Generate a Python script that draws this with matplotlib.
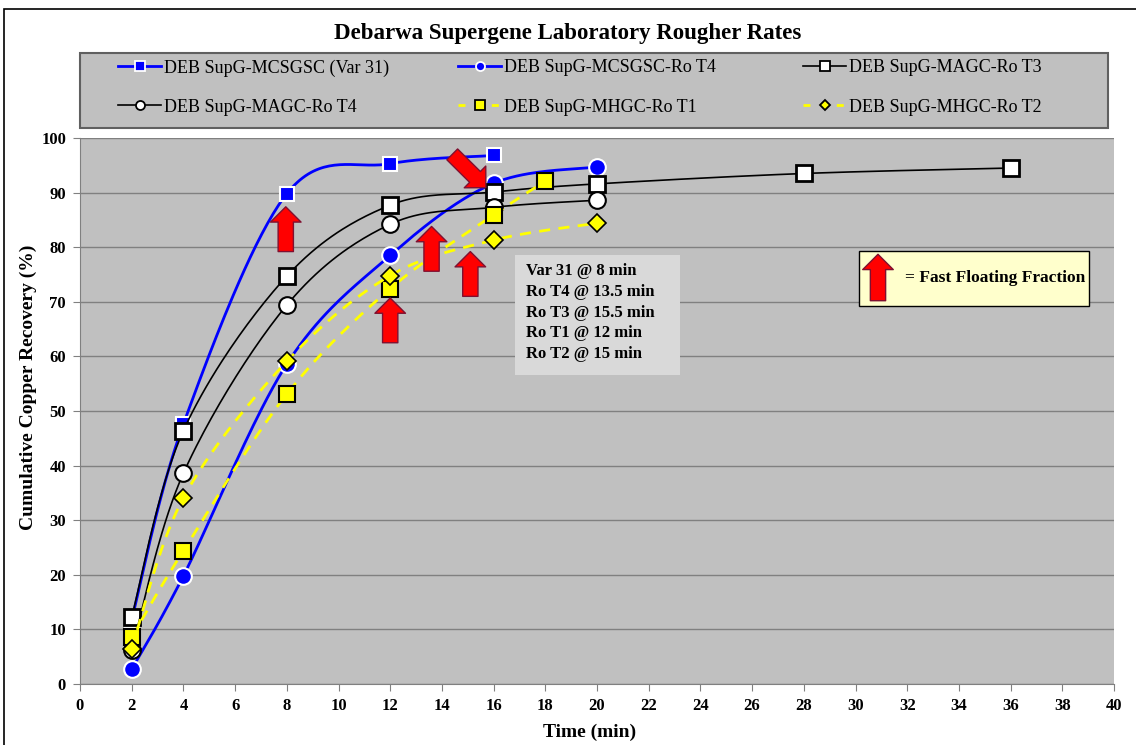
import numpy as np
import matplotlib
matplotlib.use("Agg")
import matplotlib.pyplot as plt
from matplotlib.patches import FancyArrowPatch, Rectangle
from matplotlib.lines import Line2D

plt.rcParams['font.family'] = ['Liberation Serif', 'DejaVu Serif']

# ---------------- data ----------------
var31_t = [2, 4, 8, 12, 16]
var31_r = [11.8, 47.6, 89.8, 95.3, 96.8]

mcs_t4_t = [2, 4, 8, 12, 16, 20]
mcs_t4_r = [2.7, 19.8, 58.6, 78.5, 91.7, 94.7]

magc_t3_t = [2, 4, 8, 12, 16, 20, 28, 36]
magc_t3_r = [12.3, 46.4, 74.7, 87.7, 90.1, 91.6, 93.5, 94.5]

magc_t4_t = [2, 4, 8, 12, 16, 20]
magc_t4_r = [6.2, 38.6, 69.4, 84.2, 87.3, 88.6]

mhgc_t1_t = [2, 4, 8, 12, 16, 18]
mhgc_t1_r = [8.6, 24.4, 53.1, 72.4, 85.9, 92.1]

mhgc_t2_t = [2, 4, 8, 12, 16, 20]
mhgc_t2_r = [6.5, 34.1, 59.1, 74.8, 81.3, 84.4]

labels = ["DEB SupG-MCSGSC (Var 31)", "DEB SupG-MCSGSC-Ro T4", "DEB SupG-MAGC-Ro T3",
          "DEB SupG-MAGC-Ro T4", "DEB SupG-MHGC-Ro T1", "DEB SupG-MHGC-Ro T2"]

note_lines = ["Var 31 @ 8 min", "Ro T4 @ 13.5 min", "Ro T3 @ 15.5 min",
              "Ro T1 @ 12 min", "Ro T2 @ 15 min"]


def smooth(x, y, n=40):
    """Excel-style smoothed line (cubic Bezier, 1/6 tangents)."""
    P = np.column_stack([x, y]).astype(float)
    m = len(P)
    out = []
    for i in range(m - 1):
        p0 = P[i - 1] if i > 0 else P[i]
        p1 = P[i]
        p2 = P[i + 1]
        p3 = P[i + 2] if i + 2 < m else P[i + 1]
        c1 = p1 + (p2 - p0) / 6.0
        c2 = p2 - (p3 - p1) / 6.0
        t = np.linspace(0, 1, n)[:, None]
        seg = ((1 - t) ** 3) * p1 + 3 * ((1 - t) ** 2) * t * c1 + 3 * (1 - t) * t ** 2 * c2 + t ** 3 * p2
        out.append(seg if i == 0 else seg[1:])
    s = np.vstack(out)
    return s[:, 0], s[:, 1]


W, H = 1136, 745
fig = plt.figure(figsize=(W / 100, H / 100), dpi=100)
fig.patch.set_facecolor('white')
ax = fig.add_axes([80 / W, (H - 684) / H, (1114 - 80) / W, (684 - 138) / H])
ax.set_facecolor('#C0C0C0')

series = [
    dict(t=var31_t, r=var31_r, color='#0000FF', lw=2.0, ls='-', marker='s', ms=10, mfc='#0000FF', mec='white', mew=1.5),
    dict(t=mcs_t4_t, r=mcs_t4_r, color='#0000FF', lw=2.0, ls='-', marker='o', ms=12, mfc='#0000FF', mec='white', mew=1.5),
    dict(t=magc_t3_t, r=magc_t3_r, color='black', lw=1.2, ls='-', marker='s', ms=12, mfc='white', mec='black', mew=2.0),
    dict(t=magc_t4_t, r=magc_t4_r, color='black', lw=1.2, ls='-', marker='o', ms=12, mfc='white', mec='black', mew=1.5),
    dict(t=mhgc_t1_t, r=mhgc_t1_r, color='#FFFF00', lw=2.0, ls=(0, (4, 3)), marker='s', ms=11, mfc='#FFFF00', mec='black', mew=1.5),
    dict(t=mhgc_t2_t, r=mhgc_t2_r, color='#FFFF00', lw=2.0, ls=(0, (4, 3)), marker='D', ms=9, mfc='#FFFF00', mec='black', mew=1.2),
]

handles = []
for k, s in enumerate(series):
    xs, ys = smooth(s['t'], s['r'])
    z = 3 + 2 * k
    ax.plot(xs, ys, color=s['color'], lw=s['lw'], ls=s['ls'], zorder=z)
    ax.plot(s['t'], s['r'], ls='none', marker=s['marker'], ms=s['ms'], mfc=s['mfc'],
            mec=s['mec'], mew=s['mew'], zorder=z + 1)
    handles.append(Line2D([], [], color=s['color'], lw=s['lw'], ls='-' if s['ls'] == '-' else (0, (2.5, 3.5)),
                          marker=s['marker'], ms=6.5 if s['marker'] != 'D' else 5.5,
                          mfc=s['mfc'], mec=s['mec'], mew=1.3))

ax.set_xlim(0, 40)
ax.set_ylim(0, 100)
ax.set_xticks(np.arange(0, 41, 2))
ax.set_yticks(np.arange(0, 101, 10))
ax.yaxis.grid(True, color='#808080', lw=1.0)
ax.set_axisbelow(True)
for sp in ['top', 'right']:
    ax.spines[sp].set_visible(False)
for sp in ['left', 'bottom']:
    ax.spines[sp].set_color('#808080')
ax.tick_params(axis='both', direction='out', length=5, color='#808080', labelsize=12, pad=5)
for lab in ax.get_xticklabels() + ax.get_yticklabels():
    lab.set_fontweight('bold')
ax.set_xlabel('Time (min)', fontsize=14, fontweight='bold')
ax.set_ylabel('Cumulative Copper Recovery (%)', fontsize=14, fontweight='bold')
ax.xaxis.set_label_coords((590 - 80) / 1034, -(732 - 684) / 546)
ax.yaxis.set_label_coords(-(80 - 28) / 1034, (684 - 387) / 546)
ax.xaxis.label.set_va('center')
ax.yaxis.label.set_va('center')

fig.text(0.5, (H - 34) / H, 'Debarwa Supergene Laboratory Rougher Rates',
         ha='center', va='center', fontsize=16.5, fontweight='bold')

# legend frame + entries (row-wise as in the reference)
fig.patches.append(Rectangle((80 / W, (H - 128) / H), (1108 - 80) / W, 75 / H, transform=fig.transFigure,
                             fc='#C0C0C0', ec='#606060', lw=1.5, zorder=0))
col_x = [118, 458, 803]
row_y = [68, 107]
for i in range(6):
    r, c = divmod(i, 3)
    lg = fig.legend([handles[i]], [labels[i]], loc='center left',
                    bbox_to_anchor=(col_x[c] / W, (H - row_y[r]) / H),
                    frameon=False, fontsize=13, handlelength=2.4, handletextpad=0.15,
                    borderpad=0, borderaxespad=0)

# figure border
fig.patches.append(Rectangle((4 / W, -0.01), 1.1, (H - 9) / H + 0.01, transform=fig.transFigure,
                             fill=False, ec='black', lw=1.2))

# red arrows
arrow_style = 'simple,head_length=11,head_width=22,tail_width=11'
up_arrows = [(7.96, 79.2, 87.4), (12.0, 62.5, 70.7), (13.6, 75.6, 83.8), (15.1, 71.0, 79.2)]
for (x, y0, y1) in up_arrows:
    ax.add_patch(FancyArrowPatch((x, y0), (x, y1), arrowstyle=arrow_style, mutation_scale=1,
                                 shrinkA=0, shrinkB=0, fc='#FF0000', ec='#7F1030', lw=1.0, zorder=20))
ax.add_patch(FancyArrowPatch((14.4, 97.0), (15.7, 90.9), arrowstyle=arrow_style, mutation_scale=1,
                             shrinkA=0, shrinkB=0, fc='#FF0000', ec='#7F1030', lw=1.0, zorder=20))

# note box
ax.add_patch(Rectangle((16.82, 56.6), 23.2 - 16.82, 78.5 - 56.6, fc='#D9D9D9', ec='none', zorder=18))
for i, line in enumerate(note_lines):
    ax.text(17.25, 75.6 - 3.78 * i, line, ha='left', va='center', fontsize=12,
            fontweight='bold', zorder=19)

# key box
ax.add_patch(Rectangle((30.15, 69.3), 39.04 - 30.15, 79.3 - 69.3, fc='#FFFFCC', ec='black', lw=1.0, zorder=18))
ax.add_patch(FancyArrowPatch((30.87, 70.2), (30.87, 78.7), arrowstyle=arrow_style, mutation_scale=1,
                             shrinkA=0, shrinkB=0, fc='#FF0000', ec='#7F1030', lw=1.0, zorder=20))
ax.text(31.9, 74.4, '= Fast Floating Fraction', ha='left', va='center', fontsize=12.5,
        fontweight='bold', zorder=19)

fig.savefig('out.png', dpi=100)
